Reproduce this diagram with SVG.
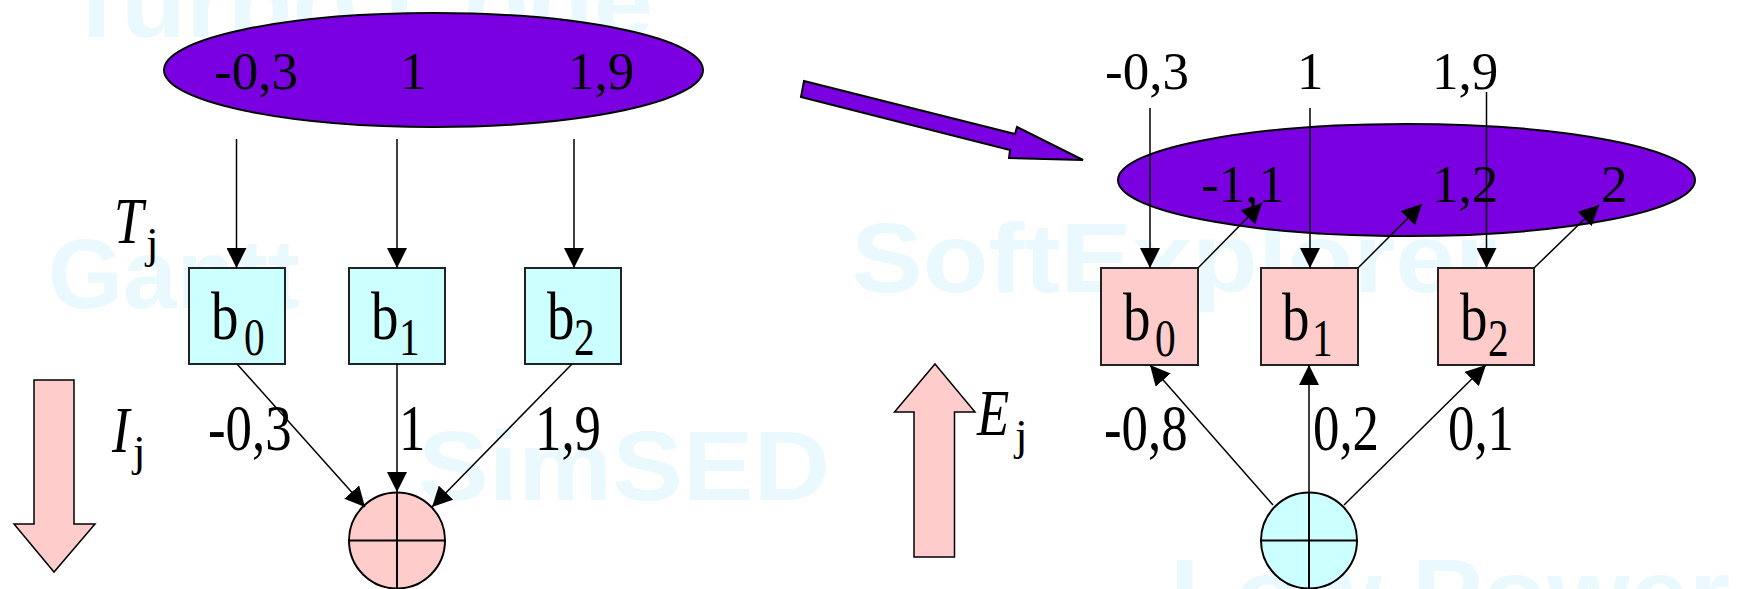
<svg xmlns="http://www.w3.org/2000/svg" width="1751" height="589" viewBox="0 0 1751 589">
<style>
.wm{font-family:"Liberation Sans",Arial,sans-serif;font-weight:bold;font-size:98px;fill:#eaf9fd}
.num{font-family:"Liberation Serif","Times New Roman",serif;font-size:53px;fill:#000}
.lbl{font-family:"Liberation Serif","Times New Roman",serif;font-size:66px;fill:#000}
.bl{font-family:"Liberation Serif","Times New Roman",serif;font-size:67px;fill:#000}
.sub{font-family:"Liberation Serif","Times New Roman",serif;font-size:53px;fill:#000}
.it{font-family:"Liberation Serif","Times New Roman",serif;font-size:66px;font-style:italic;fill:#000}
.j{font-family:"Liberation Serif","Times New Roman",serif;font-size:45px;fill:#000}
.purple{fill:#7a00e2;stroke:#000;stroke-width:2}
.boxc{fill:#ccffff;stroke:#222;stroke-width:2}
.boxp{fill:#ffcccc;stroke:#222;stroke-width:2}
.pink{fill:#ffcccc;stroke:#000;stroke-width:1.5}
.cyan{fill:#ccffff;stroke:#000;stroke-width:2}
.cross{stroke:#000;stroke-width:2;fill:none}
.conn{stroke:#000;stroke-width:1.5;fill:none}
.arr{marker-end:url(#ah)}
</style>
<defs>
<marker id="ah" markerUnits="userSpaceOnUse" viewBox="0 0 20 20" refX="20" refY="10" markerWidth="20" markerHeight="20" orient="auto">
<path d="M0,0 L20,10 L0,20 z" fill="#000"/>
</marker>
</defs>
<rect width="1751" height="589" fill="#fff"/>
<g id="watermarks">
<text class="wm" x="64" y="37" textLength="589" lengthAdjust="spacingAndGlyphs">Turbo Code</text>
<text class="wm" x="48" y="308" textLength="252" lengthAdjust="spacingAndGlyphs">Gantt</text>
<text class="wm" x="418" y="500" textLength="412" lengthAdjust="spacingAndGlyphs">SimSED</text>
<text class="wm" x="851" y="292" textLength="646" lengthAdjust="spacingAndGlyphs">SoftExplorer</text>
<text class="wm" x="1170" y="628" textLength="560" lengthAdjust="spacingAndGlyphs">Low Power</text>
</g>
<g id="ellipse-left">
<ellipse class="purple" cx="433.5" cy="70" rx="269.5" ry="57"/>
<text class="num" x="214" y="89">-0,3</text>
<text class="num" x="400" y="89">1</text>
<text class="num" x="568" y="89">1,9</text>
</g>
<g id="big-arrow">
<polygon class="purple" points="804,81 1015,134 1017,127 1083,160 1009,158 1010,150 801,97"/>
</g>
<g id="ellipse-right">
<ellipse class="purple" cx="1406.5" cy="180" rx="288.5" ry="56"/>
<text class="num" x="1201" y="202">-1,1</text>
<text class="num" x="1432" y="202">1,2</text>
<text class="num" x="1601" y="202">2</text>
</g>
<g id="top-right-values">
<text class="num" x="1105" y="89">-0,3</text>
<text class="num" x="1297" y="89">1</text>
<text class="num" x="1432" y="89">1,9</text>
</g>
<g id="Tj">
<text class="it" transform="translate(114,243) scale(0.8,1)">T</text>
<text class="j" x="146" y="258">j</text>
</g>
<g id="box-l0">
<rect class="boxc" x="189" y="268" width="96" height="96"/>
<text class="bl" transform="translate(211,339) scale(0.82,1)">b</text>
<text class="sub" transform="translate(244,355) scale(0.78,1)">0</text>
</g>
<g id="box-l1">
<rect class="boxc" x="349" y="268" width="96" height="96"/>
<text class="bl" transform="translate(371,339) scale(0.82,1)">b</text>
<text class="sub" transform="translate(399,355) scale(0.78,1)">1</text>
</g>
<g id="box-l2">
<rect class="boxc" x="525" y="268" width="96" height="96"/>
<text class="bl" transform="translate(547,339) scale(0.82,1)">b</text>
<text class="sub" transform="translate(574,355) scale(0.78,1)">2</text>
</g>
<g id="box-r0">
<rect class="boxp" x="1101" y="268" width="97" height="97"/>
<text class="bl" transform="translate(1123,340) scale(0.82,1)">b</text>
<text class="sub" transform="translate(1155,356) scale(0.78,1)">0</text>
</g>
<g id="box-r1">
<rect class="boxp" x="1261" y="268" width="97" height="97"/>
<text class="bl" transform="translate(1282,340) scale(0.82,1)">b</text>
<text class="sub" transform="translate(1312,356) scale(0.78,1)">1</text>
</g>
<g id="box-r2">
<rect class="boxp" x="1438" y="268" width="96" height="97"/>
<text class="bl" transform="translate(1460,340) scale(0.82,1)">b</text>
<text class="sub" transform="translate(1488,356) scale(0.78,1)">2</text>
</g>
<g id="Ij-arrow">
<polygon class="pink" points="34,380 74,380 74,524 95,524 54,572 14,524 34,524"/>
<text class="it" transform="translate(112,452) scale(0.8,1)">I</text>
<text class="j" x="133" y="466">j</text>
</g>
<g id="Ej-arrow">
<polygon class="pink" points="935,364 975,412 954.5,412 954.5,557 914,557 914,412 894.5,412"/>
<text class="it" transform="translate(977,435) scale(0.8,1)">E</text>
<text class="j" x="1015" y="450">j</text>
</g>
<g id="sum-left">
<circle class="pink" cx="397" cy="540.5" r="48" style="stroke-width:2"/>
<line class="cross" x1="397" y1="492.5" x2="397" y2="588.5"/>
<line class="cross" x1="349" y1="540.5" x2="445" y2="540.5"/>
</g>
<g id="sum-right">
<circle class="cyan" cx="1309" cy="540.5" r="48"/>
<line class="cross" x1="1309" y1="492.5" x2="1309" y2="588.5"/>
<line class="cross" x1="1261" y1="540.5" x2="1357" y2="540.5"/>
</g>
<g id="connectors">
<line class="conn arr" x1="236.5" y1="139" x2="236.5" y2="268"/>
<line class="conn arr" x1="397" y1="139" x2="397" y2="268"/>
<line class="conn arr" x1="574" y1="139" x2="574" y2="268"/>
<line class="conn arr" x1="237" y1="364" x2="365" y2="507"/>
<line class="conn arr" x1="397" y1="364" x2="397" y2="492"/>
<line class="conn arr" x1="572" y1="364" x2="432" y2="507"/>
<line class="conn arr" x1="1150" y1="108" x2="1150" y2="268"/>
<line class="conn arr" x1="1310" y1="108" x2="1310" y2="268"/>
<line class="conn arr" x1="1486.5" y1="92" x2="1486.5" y2="268"/>
<line class="conn arr" x1="1198" y1="268" x2="1262" y2="203"/>
<line class="conn arr" x1="1358" y1="268" x2="1422" y2="204"/>
<line class="conn arr" x1="1534" y1="268" x2="1599" y2="205"/>
<line class="conn arr" x1="1273" y1="505" x2="1150" y2="365"/>
<line class="conn arr" x1="1309" y1="492.5" x2="1309" y2="365"/>
<line class="conn arr" x1="1344" y1="505" x2="1486" y2="365"/>
</g>
<g id="weights">
<text class="lbl" transform="translate(208,450) scale(0.8,1)">-0,3</text>
<text class="lbl" transform="translate(399,450) scale(0.8,1)">1</text>
<text class="lbl" transform="translate(535,450) scale(0.8,1)">1,9</text>
<text class="lbl" transform="translate(1104,450) scale(0.8,1)">-0,8</text>
<text class="lbl" transform="translate(1313,450) scale(0.8,1)">0,2</text>
<text class="lbl" transform="translate(1448,450) scale(0.8,1)">0,1</text>
</g>
</svg>
